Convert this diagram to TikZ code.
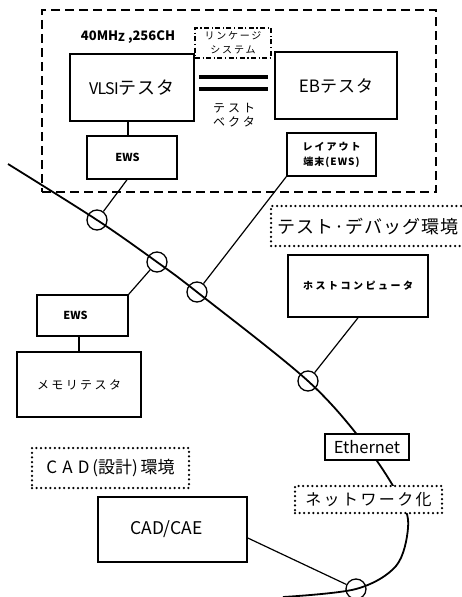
\documentclass[tikz,border=0pt]{standalone}
\usepackage{fontspec}
\setmainfont{Noto Sans CJK JP}
\usetikzlibrary{calc}
\newcommand\fsz[1]{\fontsize{#1}{#1}\selectfont}
\newcommand\lsp[2]{{\addfontfeature{LetterSpace=#1}#2}}
\begin{document}
\begin{tikzpicture}[x=1pt,y=-1pt,
  box/.style={draw, line width=1.6pt, fill=white, inner sep=0pt, align=center},
  envframe/.style={draw, line width=2pt, dash pattern=on 9pt off 5pt},
  dotline/.style={line width=2.5pt, dash pattern=on 0pt off 4.6pt, line cap=round},
  dotbox/.style={draw, dotline, fill=white, inner sep=0pt, align=center},
  linkbox/.style={draw, line width=1.4pt, dash pattern=on 5pt off 2.5pt on 1.2pt off 2.5pt, inner sep=0pt, align=center},
  tap/.style={circle, draw, line width=1.3pt, minimum size=20pt, inner sep=0pt},
  conn/.style={line width=1.2pt},
  bus/.style={line width=1.8pt},
  bar/.style={line width=4pt}]
\useasboundingbox (0,0) rectangle (461,597);

% test-debug environment frame
\node[envframe, minimum width=394pt, minimum height=182pt] (env) at (239,101) {};

% taps on the network
\node[tap] (c1) at (97,220) {};
\node[tap] (c2) at (157,262) {};
\node[tap] (c3) at (197,292) {};
\node[tap] (c4) at (308,381) {};
\node[tap] (c5) at (356,589) {};

% network backbone
\draw[bus] plot[smooth, tension=0.55] coordinates {(8,164) (c1.center) (c2.center) (c3.center) (c4.center) (366,446) (401,500) (408,528) (396,566) (c5.center) (283,597)};

% boxes inside frame
\node[box, minimum width=124pt, minimum height=67pt] (vlsi) at (132,87.5) {\fsz{16}\lsp{-4}{VLSI}\fsz{18}\lsp{6}{テスタ}};
\node[box, minimum width=122pt, minimum height=67pt] (eb) at (336,85.5) {\fsz{17}EB\lsp{6}{テスタ}};
\node[box, minimum width=90pt, minimum height=43pt] (ews1) at (132,157.5) {\fsz{11}\bfseries EWS\hspace*{9pt}};
\node[box, minimum width=89pt, minimum height=43pt] (ly) at (331.5,154.5) {\fsz{10}\bfseries\lsp{20}{レイアウト}\\[3pt]\fsz{10}\bfseries\lsp{10}{端末(EWS)}};
\node[linkbox, minimum width=76pt, minimum height=30pt] (link) at (233,43) {\fsz{10}\lsp{18}{リンケージ}\\[2pt]\fsz{10}\lsp{18}{システム}};
\node (mhz) at (128,37) {\fsz{13}\bfseries 40MH\raisebox{-1.5pt}{\fsz{11}Z} ,256CH};
\node[align=center, inner sep=0pt] (tv) at (234,115) {\fsz{12}\lsp{25}{テスト}\\[2pt]\fsz{12}\lsp{25}{ベクタ}};

% test vector link
\draw[bar] ($(vlsi.east)+(4,-10.5)$) -- ($(vlsi.east -| eb.west)+(-6,-10.5)$);
\draw[bar] ($(vlsi.east)+(4,1.5)$) -- ($(vlsi.east -| eb.west)+(-6,1.5)$);

% other boxes
\node[box, minimum width=140pt, minimum height=62pt] (host) at (358,286) {\fsz{10}\bfseries\lsp{25}{ホストコンピュータ}};
\node[box, minimum width=91pt, minimum height=41pt] (ews2) at (82.5,315.5) {\fsz{11}\bfseries EWS\hspace*{14pt}};
\node[box, minimum width=124pt, minimum height=65pt] (mem) at (79,384.5) {\fsz{12}\lsp{20}{メモリテスタ}};
\node[box, minimum width=84pt, minimum height=26pt] (eth) at (367,447) {\fsz{16.5}Ethernet};
\node[box, minimum width=149pt, minimum height=65pt] (cad) at (172.5,529.5) {\fsz{17.5}CAD/CAE\hspace*{12pt}};

% environment labels
\draw[dotline] (461,206) -| (271,246) -- (461,246);
\node[inner sep=0pt] (dbg) at (368,227) {\fsz{18}\lsp{5}{テスト·デバッグ環境}};
\node[dotbox, minimum width=157pt, minimum height=40pt] (cadenv) at (110.5,468) {\fsz{17}\lsp{30}{CAD}\,(設計)\,環境};
\node[dotbox, minimum width=147pt, minimum height=27pt] (net) at (368.5,499.5) {\fsz{16}\lsp{15}{ネットワーク化}};

% connectors
\draw[conn] (vlsi.south -| 128,0) -- (ews1.north -| 128,0);
\draw[conn] (ews1.south -| 127,0) -- (c1);
\draw[conn] (ly.south west) -- (c3);
\draw[conn] (ews2.north east) -- (c2);
\draw[conn] (mem.north |- ews2.south) -- (mem.north);
\draw[conn] (host.south) -- (c4);
\draw[conn] ($(cad.east)+(0,8.5)$) -- (c5);
\end{tikzpicture}
\end{document}
